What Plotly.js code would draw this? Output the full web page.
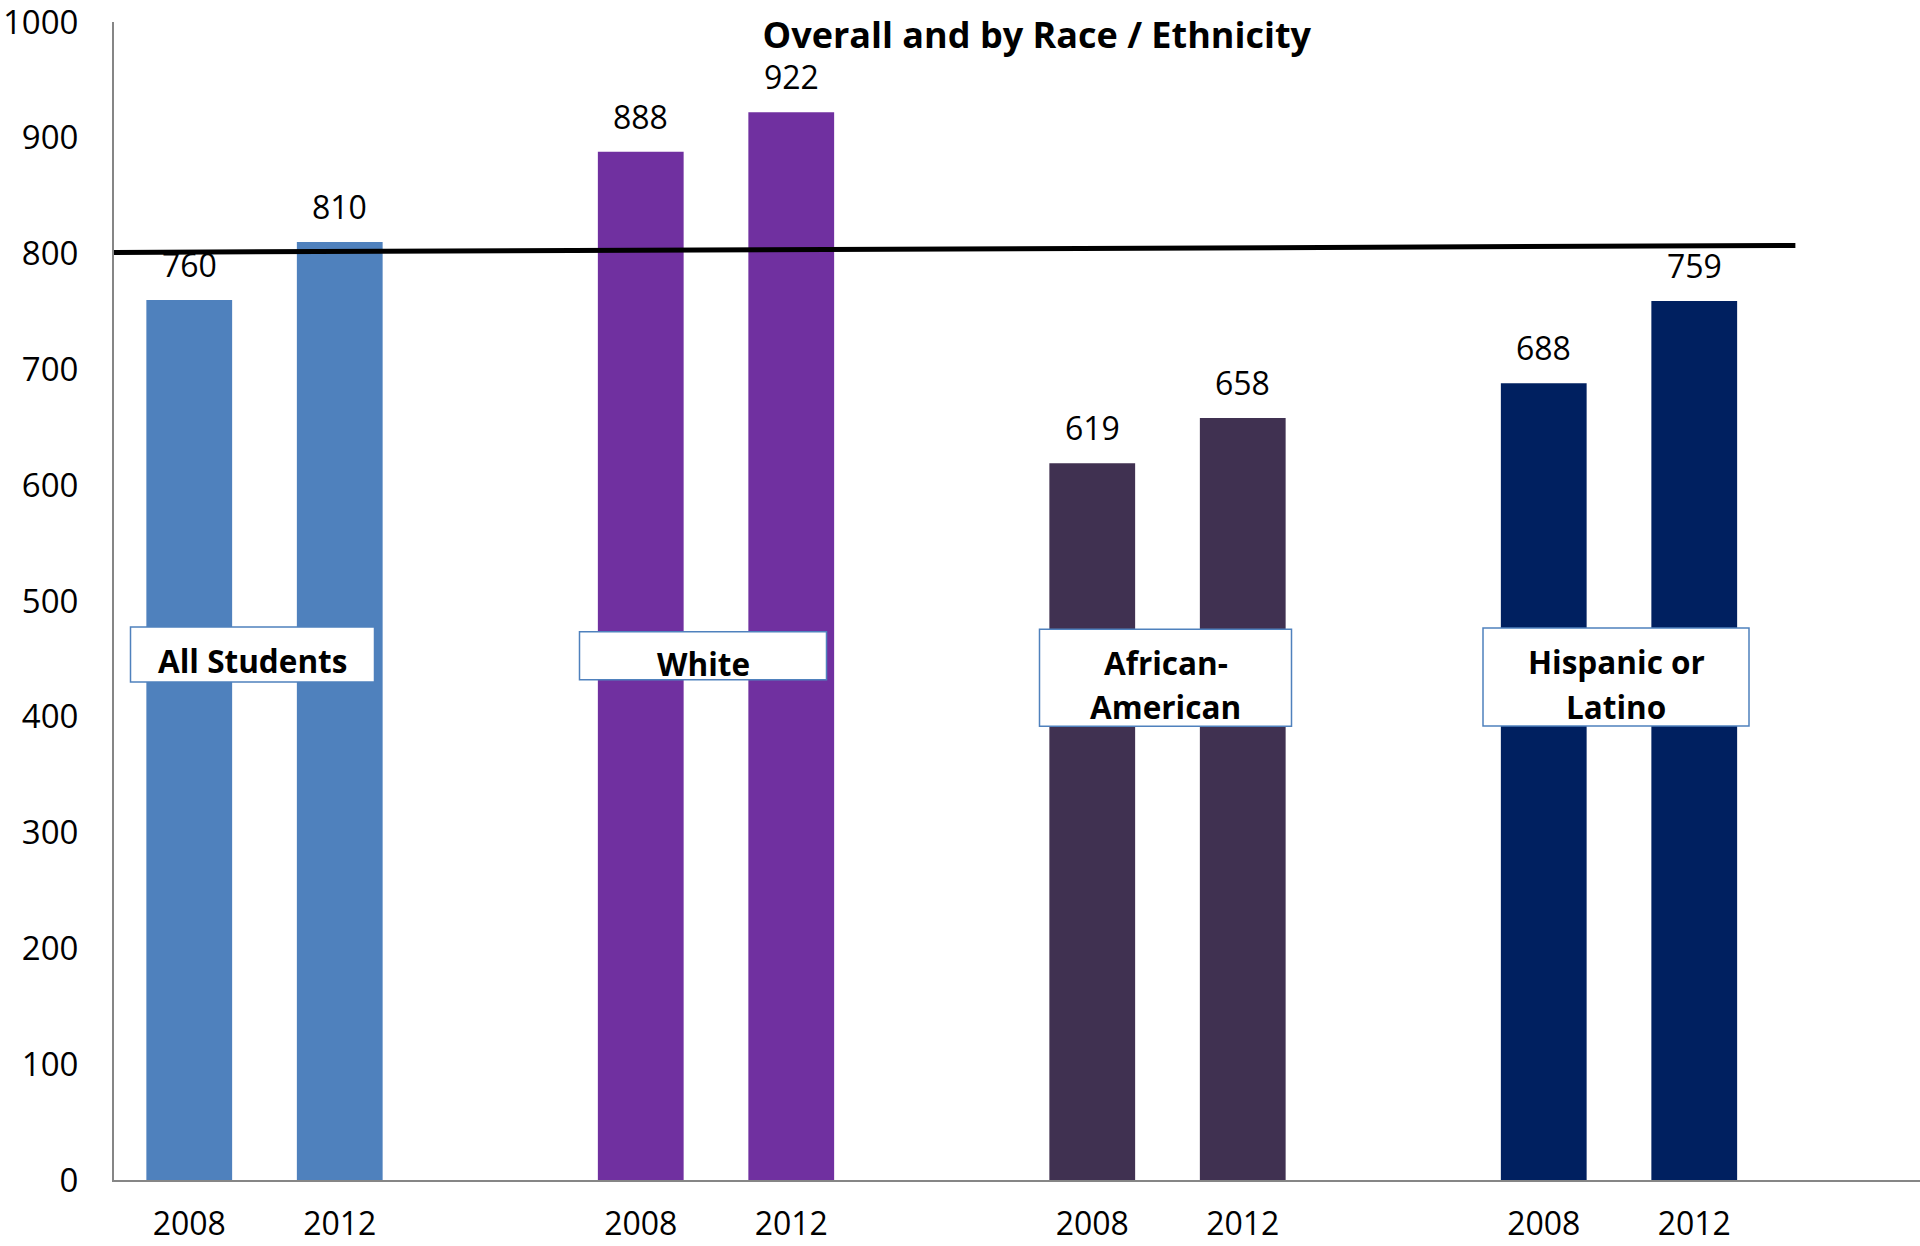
<!DOCTYPE html>
<html>
<head>
<meta charset="utf-8">
<script src="https://cdn.plot.ly/plotly-3.0.1.min.js"></script>
<style>
html,body{margin:0;padding:0;background:#fff;}
#chart{width:1920px;height:1246px;}
</style>
</head>
<body>
<div id="chart"></div>
<script>
// ---- data ----
const groups = ["All Students", "White", "African-American", "Hispanic or Latino"];
const groupLabelLines = [["All Students"], ["White"], ["African-", "American"], ["Hispanic or", "Latino"]];
const years = ["2008", "2012"];
const values2008 = [760, 888, 619, 688];
const values2012 = [810, 922, 658, 759];
const groupColors = ["#4F81BD", "#7030A0", "#403151", "#002060"];
const benchmarkLine = [801, 807];
const chartTitle = "Overall and by Race / Ethnicity";

// ---- build ----
const xs = [], ys = [], cols = [], tickvals = [], ticktext = [], hov = [];
const FONT = "Open Sans, Lato, sans-serif";
groups.forEach((g, gi) => {
  [values2008[gi], values2012[gi]].forEach((v, yi) => {
    const x = gi * 3 + yi;
    xs.push(x); ys.push(v); cols.push(groupColors[gi]);
    tickvals.push(x); ticktext.push(years[yi]);
    hov.push(g + " " + years[yi]);
  });
});

const annotations = [];
xs.forEach((x, i) => {
  annotations.push({
    x: x, y: ys[i], xref: "x", yref: "y",
    text: String(ys[i]), showarrow: false,
    yanchor: "bottom", yshift: 12,
    font: {family: FONT, size: 32, color: "#000"}
  });
});

// group label boxes (layout: pixel offsets / sizes)
const boxCfg = [
  {dx: -12, yc: 453.8, w: 244, h: 55, ty: [449]},
  {dx: -13, yc: 452.8, w: 247, h: 48, ty: [446]},
  {dx: -2,  yc: 433.7, w: 252, h: 97, ty: [447, 409]},
  {dx: -3,  yc: 434.4, w: 266, h: 98, ty: [448, 409]}
];
const shapes = [{
  type: "line", xref: "paper", yref: "y",
  x0: 0, x1: 0.931, y0: benchmarkLine[0], y1: benchmarkLine[1],
  line: {color: "#000", width: 5}, layer: "above"
}];
groupLabelLines.forEach((lines, gi) => {
  const c = boxCfg[gi];
  const xc = gi * 3 + 0.5;
  shapes.push({
    type: "rect", xref: "x", yref: "y",
    xsizemode: "pixel", ysizemode: "pixel",
    xanchor: xc, yanchor: c.yc,
    x0: c.dx - c.w / 2, x1: c.dx + c.w / 2,
    y0: -c.h / 2, y1: c.h / 2,
    fillcolor: "#ffffff", line: {color: "#4F81BD", width: 1.5}, layer: "above"
  });
  lines.forEach((ln, li) => {
    annotations.push({
      x: xc, y: c.ty[li], xref: "x", yref: "y", xshift: c.dx,
      text: "<b>" + ln + "</b>", showarrow: false,
      xanchor: "center", yanchor: "middle",
      font: {family: FONT, size: 31.5, color: "#000"}
    });
  });
});

const trace = {
  type: "bar", x: xs, y: ys, width: 0.57,
  marker: {color: cols, line: {width: 0}},
  hovertext: hov, hoverinfo: "text+y"
};

const layout = {
  width: 1920, height: 1246,
  margin: {l: 114, r: 0, t: 22, b: 66},
  paper_bgcolor: "#fff", plot_bgcolor: "#fff",
  showlegend: false,
  font: {family: FONT, size: 32, color: "#000"},
  title: {
    text: "<b>" + chartTitle + "</b>",
    font: {family: FONT, size: 36, color: "#000"},
    x: 0.54, xref: "container", xanchor: "center",
    y: 1 - 35 / 1246, yref: "container", yanchor: "middle"
  },
  xaxis: {
    range: [-0.5, 11.5], tickvals: tickvals, ticktext: ticktext,
    showgrid: false, zeroline: false, showline: true,
    linecolor: "#868686", linewidth: 2, ticks: "",
    ticklabelstandoff: 15,
    tickfont: {family: FONT, size: 32, color: "#000"}
  },
  yaxis: {
    range: [0, 1000], dtick: 100, tick0: 0,
    showgrid: false, zeroline: false, showline: true,
    linecolor: "#868686", linewidth: 2, ticks: "",
    ticklabelstandoff: 27, ticklabeloverflow: "allow",
    tickfont: {family: FONT, size: 33, color: "#000"}
  },
  shapes: shapes,
  annotations: annotations
};

Plotly.newPlot("chart", [trace], layout, {displayModeBar: false, staticPlot: true});
</script>
</body>
</html>
